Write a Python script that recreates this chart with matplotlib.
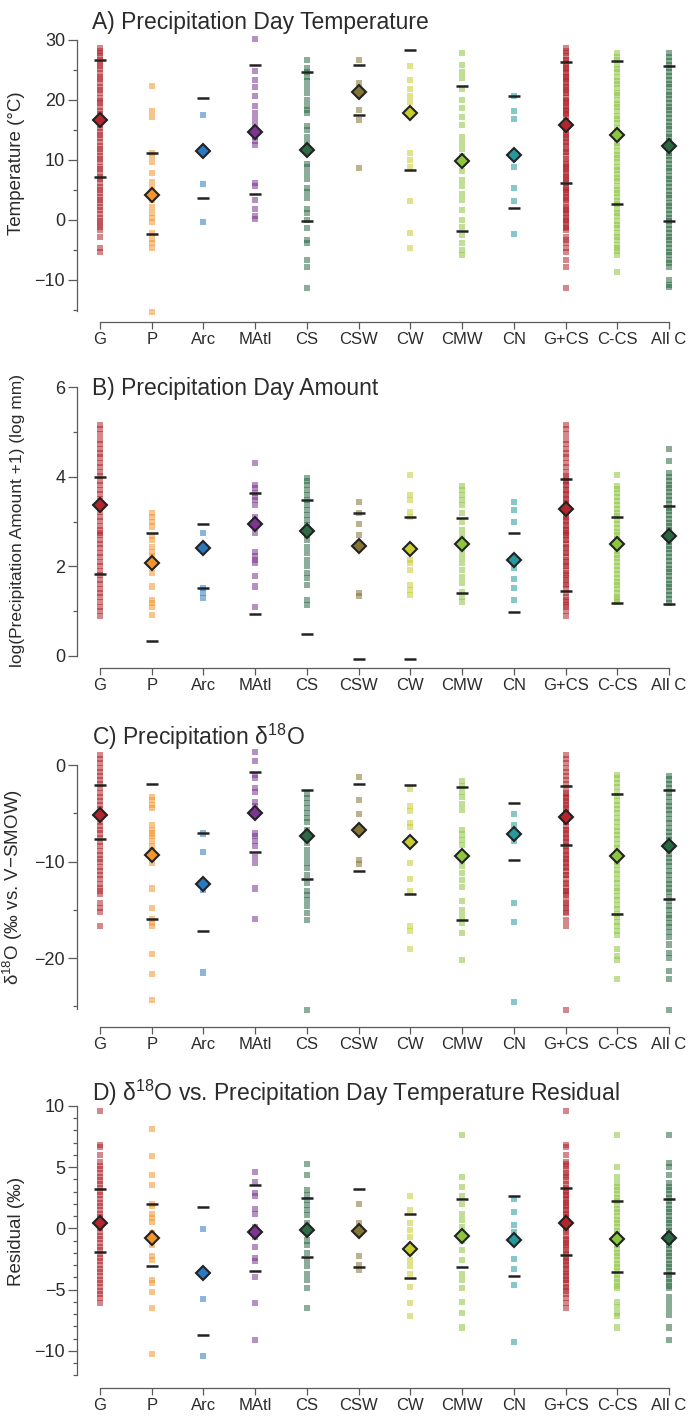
import numpy as np
import matplotlib
matplotlib.use("Agg")
import matplotlib.pyplot as plt

plt.rcParams["font.family"] = ["Liberation Sans", "DejaVu Sans"]
plt.rcParams["mathtext.fontset"] = "custom"
plt.rcParams["mathtext.rm"] = "Liberation Sans"
plt.rcParams["mathtext.it"] = "Liberation Sans:italic"

# ---------------------------------------------------------------- categories
categories = ["G", "P", "Arc", "MAtl", "CS", "CSW", "CW", "CMW", "CN", "G+CS", "C-CS", "All C"]
colors = ["#b2262d", "#f3952a", "#2b78c0", "#7d3592", "#2e6b45", "#857434",
          "#c8cd2e", "#8cc63e", "#25999b", "#b2262d", "#8cc63e", "#2a6840"]

# ---------------------------------------------------------------- A) temperature (°C)
temp_G = [28.6, 28.2, 27.8, 27.3, 26.7, 26.1, 25.6, 25.2, 24.5, 23.9, 23.5, 22.8, 22.2, 21.7, 21.1,
          20.4, 19.9, 19.5, 18.8, 18.1, 17.6, 17.2, 16.5, 15.8, 15.4, 14.7, 14.1, 13.7, 13.0, 12.4,
          11.9, 11.3, 10.6, 10.2, 9.6, 8.9, 8.5, 7.9, 7.2, 6.8, 6.2, 5.5, 5.0, 4.5, 3.8, 3.3, 2.8,
          2.1, 1.6, 1.0, 0.4, -0.1, -0.7, -1.1, -1.7, -2.8, -4.7, -5.4]
temp_P = [22.3, 18.1, 17.2, 11.2, 10.6, 9.7, 7.9, 6.4, 5.3, 3.9, 3.3, 2.2, 1.1, 0.3, -0.4, -2.2,
          -3.1, -3.9, -4.7, -15.3]
temp_Arc = [17.5, 6.0, -0.4]
temp_MAtl = [30.1, 24.9, 23.3, 22.1, 20.6, 19.0, 17.9, 16.9, 15.8, 14.7, 13.9, 13.1, 12.5, 6.2,
             5.6, 3.3, 1.9, 0.6, 0.1]
temp_CS = [26.7, 25.3, 24.7, 23.9, 23.1, 22.1, 21.1, 20.0, 19.0, 18.3, 17.8, 15.6, 15.0, 13.9,
           12.9, 11.4, 9.4, 8.9, 7.8, 6.9, 5.3, 4.6, 3.6, 1.9, 1.1, 0.0, -1.4, -3.3, -3.9, -6.7,
           -7.8, -11.4]
temp_CSW = [26.7, 22.8, 18.4, 16.6, 8.6]
temp_CW = [25.7, 23.4, 21.9, 20.6, 19.7, 11.1, 10.0, 8.9, 3.1, -2.2, -4.7]
temp_CMW = [27.8, 25.8, 24.7, 23.6, 21.9, 20.0, 18.6, 17.2, 15.8, 13.9, 12.8, 11.9, 10.6, 9.4,
            8.1, 6.7, 5.6, 4.4, 3.3, 1.7, 0.0, -1.1, -2.5, -3.9, -5.0, -5.8]
temp_CN = [20.6, 18.1, 16.9, 8.9, 5.3, 3.1, -2.4]
temp_CCS = [27.8, 27.1, 26.6, 25.8, 25.2, 24.7, 23.9, 23.2, 22.7, 22.0, 21.2, 20.8, 20.0, 19.3,
            18.8, 18.1, 17.3, 16.8, 16.1, 15.4, 14.9, 14.1, 13.5, 12.8, 12.3, 11.5, 10.9, 10.4,
            9.6, 8.9, 8.4, 7.6, 7.0, 6.5, 5.7, 5.0, 4.5, 3.8, 3.1, 2.6, 1.8, 1.2, 0.6, -0.1, -0.9,
            -1.4, -2.1, -2.8, -3.3, -4.1, -4.7, -5.2, -5.8, -8.6]
temp_AllC = [27.8, 27.2, 26.5, 25.9, 25.3, 24.6, 24.0, 23.4, 22.7, 22.1, 21.4, 20.9, 20.2, 19.5,
             18.9, 18.3, 17.6, 17.0, 16.3, 15.7, 15.1, 14.4, 13.8, 13.2, 12.5, 11.9, 11.2, 10.6,
             10.0, 9.3, 8.7, 8.1, 7.4, 6.8, 6.1, 5.5, 4.9, 4.2, 3.6, 2.9, 2.3, 1.7, 1.0, 0.4, -0.2,
             -0.9, -1.5, -2.1, -2.8, -3.4, -4.0, -4.7, -5.3, -5.9, -6.6, -7.2, -7.8, -10.0, -10.8,
             -11.2]
temp_mean = [16.6, 4.1, 11.5, 14.6, 11.7, 21.3, 17.9, 9.9, 10.9, 15.8, 14.1, 12.3]
temp_hi = [26.7, 11.1, 20.3, 25.8, 24.7, 25.9, 28.3, 22.3, 20.7, 26.4, 26.5, 25.7]
temp_lo = [7.2, -2.3, 3.6, 4.3, -0.2, 17.5, 8.4, -1.8, 2.0, 6.1, 2.6, -0.1]

# ---------------------------------------------------------------- B) log(amount + 1)
amt_G = [5.16, 5.07, 4.95, 4.83, 4.74, 4.63, 4.52, 4.43, 4.31, 4.22, 4.11, 4.02, 3.91, 3.82, 3.70,
         3.61, 3.50, 3.41, 3.30, 3.21, 3.10, 3.01, 2.91, 2.80, 2.75, 2.69, 2.59, 2.50, 2.40, 2.30,
         2.20, 2.10, 2.01, 1.90, 1.80, 1.70, 1.61, 1.50, 1.40, 1.31, 1.20, 1.10, 1.00, 0.90]
amt_P = [3.19, 3.11, 3.0, 2.89, 2.67, 2.59, 2.44, 2.33, 2.22, 2.11, 2.0, 1.85, 1.55, 1.25, 1.18,
         1.1, 0.92]
amt_Arc = [2.75, 1.51, 1.4, 1.3]
amt_MAtl = [4.3, 3.82, 3.75, 3.63, 3.56, 3.48, 3.37, 3.11, 3.0, 2.74, 2.33, 2.22, 2.14, 2.07, 1.79,
            1.55, 1.1]
amt_CS = [3.97, 3.9, 3.82, 3.71, 3.6, 3.48, 3.37, 3.26, 3.15, 3.04, 2.93, 2.81, 2.7, 2.59, 2.44,
          2.29, 2.14, 2.0, 1.85, 1.73, 1.58, 1.25, 1.14]
amt_CSW = [3.43, 3.19, 2.94, 2.70, 1.40, 1.33]
amt_CW = [4.04, 3.6, 3.48, 3.22, 3.11, 2.14, 2.07, 1.92, 1.59, 1.47, 1.36]
amt_CMW = [3.8, 3.7, 3.59, 3.48, 3.37, 3.19, 3.0, 2.82, 2.67, 2.52, 2.37, 2.22, 2.07, 1.92, 1.77,
           1.62, 1.43, 1.32, 1.21]
amt_CN = [3.43, 3.26, 2.99, 1.96, 1.71, 1.51, 1.25]
amt_CCS = [4.04, 3.80, 3.72, 3.63, 3.55, 3.46, 3.37, 3.29, 3.20, 3.12, 3.03, 2.95, 2.86, 2.77,
           2.69, 2.60, 2.52, 2.43, 2.35, 2.26, 2.18, 2.09, 2.00, 1.92, 1.83, 1.75, 1.66, 1.58,
           1.49, 1.41, 1.32, 1.26, 1.21]
amt_AllC = [4.62, 4.36, 4.08, 3.99, 3.91, 3.82, 3.74, 3.65, 3.57, 3.48, 3.40, 3.31, 3.23, 3.14,
            3.06, 2.97, 2.89, 2.80, 2.72, 2.63, 2.55, 2.46, 2.38, 2.29, 2.21, 2.12, 2.04, 1.95,
            1.87, 1.78, 1.70, 1.61, 1.53, 1.44, 1.36, 1.27, 1.18]
amt_mean = [3.36, 2.08, 2.40, 2.95, 2.79, 2.46, 2.39, 2.50, 2.14, 3.28, 2.50, 2.68]
amt_hi = [4.0, 2.75, 2.95, 3.63, 3.49, 3.19, 3.11, 3.08, 2.74, 3.95, 3.11, 3.34]
amt_lo = [1.82, 0.34, 1.51, 0.94, 0.48, -0.07, -0.07, 1.40, 0.99, 1.44, 1.18, 1.15]

# ---------------------------------------------------------------- C) precipitation d18O (permil)
d18_G = [1.0, 0.6, 0.2, -0.3, -0.7, -1.1, -1.6, -2.0, -2.4, -2.9, -3.3, -3.7, -4.1, -4.6, -5.0,
         -5.4, -5.9, -6.3, -6.7, -7.1, -7.6, -8.0, -8.4, -8.9, -9.3, -9.7, -10.1, -10.6, -11.0,
         -11.4, -11.8, -12.3, -12.7, -13.1, -13.4, -14.3, -14.8, -15.2, -16.7]
d18_P = [-3.3, -3.6, -4.1, -4.5, -6.2, -6.7, -7.1, -7.4, -7.9, -8.4, -8.8, -9.5, -10.2, -12.8,
         -14.8, -16.0, -16.4, -16.7, -19.6, -21.7, -24.4]
d18_Arc = [-7.1, -9.0, -12.9, -21.5]
d18_MAtl = [1.3, 0.4, -1.0, -1.3, -2.4, -2.8, -3.8, -4.3, -4.8, -5.3, -7.1, -7.4, -7.9, -8.4,
            -9.5, -10.2, -12.8, -16.0]
d18_CS = [-3.0, -3.45, -3.97, -4.48, -5.0, -5.52, -5.86, -6.72, -7.41, -8.1, -8.79, -9.48,
          -10.17, -10.69, -11.38, -12.24, -13.1, -13.45, -13.97, -14.66, -15.34, -16.03, -25.34]
d18_CSW = [-1.2, -3.6, -5.1, -9.8, -10.3]
d18_CW = [-2.5, -4.2, -4.8, -6.0, -6.4, -10.2, -11.8, -13.1, -16.7, -17.2, -19.1]
d18_CMW = [-1.7, -2.2, -2.8, -3.3, -4.0, -4.7, -6.7, -7.2, -7.8, -8.3, -9.1, -9.8, -10.5, -11.2,
           -11.9, -12.6, -14.1, -15.0, -15.7, -16.4, -17.4, -20.2]
d18_CN = [-5.1, -6.2, -7.9, -14.3, -16.3, -24.6]
d18_CCS = [-1.0, -1.4, -1.9, -2.3, -2.8, -3.2, -3.7, -4.1, -4.6, -5.0, -5.5, -5.9, -6.4, -6.8,
           -7.3, -7.7, -8.2, -8.6, -9.1, -9.5, -10.0, -10.4, -10.9, -11.3, -11.8, -12.2, -12.7,
           -13.1, -13.6, -14.0, -14.5, -14.9, -15.4, -15.8, -16.3, -16.7, -17.2, -17.6, -19.1,
           -19.8, -20.2, -22.2]
d18_AllC = [-1.1, -1.5, -2.0, -2.4, -2.9, -3.3, -3.8, -4.2, -4.7, -5.1, -5.6, -6.0, -6.5, -6.9,
            -7.4, -7.8, -8.3, -8.7, -9.2, -9.6, -10.1, -10.5, -11.0, -11.4, -11.9, -12.3, -12.8,
            -13.2, -13.7, -14.1, -14.6, -15.0, -15.5, -15.9, -16.4, -16.8, -17.3, -17.8, -18.6,
            -19.5, -20.0, -21.3, -22.2, -25.4]
d18_mean = [-5.2, -9.3, -12.3, -5.0, -7.4, -6.7, -8.0, -9.4, -7.1, -5.4, -9.4, -8.4]
d18_hi = [-2.1, -2.0, -7.0, -0.7, -2.6, -2.0, -2.1, -2.3, -3.9, -2.2, -3.0, -2.6]
d18_lo = [-7.7, -16.0, -17.2, -9.0, -11.8, -11.0, -13.4, -16.1, -9.8, -8.3, -15.4, -13.9]

# ---------------------------------------------------------------- D) d18O vs temperature residual
res_G = [9.6, 6.8, 6.6, 6.0, 5.4, 5.1, 4.8, 4.5, 4.2, 3.9, 3.6, 3.3, 3.0, 2.7, 2.4, 2.1, 1.8, 1.5,
         1.2, 0.9, 0.6, 0.3, 0.0, -0.3, -0.6, -0.9, -1.2, -1.5, -1.8, -2.1, -2.4, -2.7, -3.0, -3.3,
         -3.6, -3.9, -4.2, -4.5, -4.8, -5.1, -5.4, -5.7, -6.1]
res_P = [8.1, 5.9, 4.35, 3.5, 2.0, 1.8, 1.2, 0.8, 0.5, -0.4, -1.0, -1.4, -2.3, -2.6, -4.2, -4.5,
         -5.2, -6.5, -10.3]
res_Arc = [-0.08, -5.8, -10.4]
res_MAtl = [4.6, 3.8, 2.9, 2.6, 1.6, 1.2, 0.1, -0.7, -1.5, -2.4, -2.7, -4.0, -6.1, -9.1]
res_CS = [5.25, 4.35, 3.1, 2.7, 2.3, 1.9, 1.5, 1.1, 0.4, -0.14, -1.0, -1.4, -2.0, -2.6, -3.1,
          -3.7, -4.2, -4.9, -6.5]
res_CSW = [2.0, 0.4, -2.3, -3.0, -3.4]
res_CW = [2.6, 1.5, 0.4, -0.14, -0.7, -1.5, -2.0, -2.6, -3.1, -3.7, -4.8, -6.1, -7.2]
res_CMW = [7.6, 4.2, 3.4, 2.6, 2.0, 1.2, 0.7, 0.1, -0.4, -1.0, -1.8, -2.6, -3.7, -4.2, -4.9, -6.0,
           -6.9, -8.1]
res_CN = [2.4, 1.3, 0.3, -0.3, -1.0, -2.5, -3.3, -4.6, -9.3]
res_CCS = [7.6, 5.0, 4.2, 3.7, 3.4, 3.1, 2.8, 2.5, 2.2, 1.9, 1.6, 1.3, 1.0, 0.7, 0.4, 0.1, -0.2,
           -0.5, -0.8, -1.1, -1.4, -1.7, -2.0, -2.3, -2.6, -2.9, -3.2, -3.5, -3.8, -4.1, -4.4,
           -4.7, -4.9, -6.0, -6.4, -6.9, -7.2, -8.1]
res_AllC = [7.6, 5.3, 5.0, 4.35, 3.7, 3.4, 3.1, 2.8, 2.5, 2.2, 1.9, 1.6, 1.3, 1.0, 0.7, 0.4, 0.1,
            -0.2, -0.5, -0.8, -1.1, -1.4, -1.7, -2.0, -2.3, -2.6, -2.9, -3.2, -3.5, -3.8, -4.1,
            -4.4, -4.7, -4.9, -5.6, -6.1, -6.6, -7.1, -8.1, -9.1]
res_mean = [0.4, -0.76, -3.67, -0.27, -0.14, -0.2, -1.7, -0.6, -0.95, 0.4, -0.9, -0.76]
res_hi = [3.2, 1.96, 1.77, 3.5, 2.5, 3.2, 1.2, 2.37, 2.6, 3.3, 2.2, 2.4]
res_lo = [-1.96, -3.07, -8.7, -3.5, -2.37, -3.2, -4.1, -3.2, -3.9, -2.2, -3.6, -3.67]

# G+CS combines the two groups
temp_GCS = temp_G + temp_CS
amt_GCS = amt_G + amt_CS
d18_GCS = d18_G + d18_CS
res_GCS = res_G + res_CS

temp_pts = [temp_G, temp_P, temp_Arc, temp_MAtl, temp_CS, temp_CSW, temp_CW, temp_CMW, temp_CN,
            temp_GCS, temp_CCS, temp_AllC]
amt_pts = [amt_G, amt_P, amt_Arc, amt_MAtl, amt_CS, amt_CSW, amt_CW, amt_CMW, amt_CN,
           amt_GCS, amt_CCS, amt_AllC]
d18_pts = [d18_G, d18_P, d18_Arc, d18_MAtl, d18_CS, d18_CSW, d18_CW, d18_CMW, d18_CN,
           d18_GCS, d18_CCS, d18_AllC]
res_pts = [res_G, res_P, res_Arc, res_MAtl, res_CS, res_CSW, res_CW, res_CMW, res_CN,
           res_GCS, res_CCS, res_AllC]

# ---------------------------------------------------------------- figure
W, H = 689, 1416
fig = plt.figure(figsize=(W / 100, H / 100), dpi=100)

AX_LEFT = 77            # px, y-axis spine
X0, X11 = 100, 669      # px of first / last category
step = (X11 - X0) / 11.0
xlim = ((AX_LEFT - X0) / step, (W - X0) / step)

SPINE_C = "#5a5a5a"
TXT_C = "#2b2b2b"

panels = [
    dict(pts=temp_pts, mean=temp_mean, hi=temp_hi, lo=temp_lo,
         top=34, bottom=322, ylim=(-17, 31), bounds=(-15.2, 30),
         major=[-10, 0, 10, 20, 30], minor=[-15, -5, 5, 15, 25],
         title="A) Precipitation Day Temperature", title_y=22,
         ylabel="Temperature (°C)", ylabel_y=163, ylabel_size=13.5),
    dict(pts=amt_pts, mean=amt_mean, hi=amt_hi, lo=amt_lo,
         top=380.5, bottom=668, ylim=(-0.27, 6.15), bounds=(0, 6),
         major=[0, 2, 4, 6], minor=[1, 3, 5],
         title="B) Precipitation Day Amount", title_y=388,
         ylabel="log(Precipitation Amount +1) (log mm)", ylabel_y=520, ylabel_size=12.5),
    dict(pts=d18_pts, mean=d18_mean, hi=d18_hi, lo=d18_lo,
         top=745.7, bottom=1027, ylim=(-27.15, 2), bounds=(-25.3, 0),
         major=[-20, -10, 0], minor=[-25, -15, -5],
         title="C) Precipitation δ$^{18}$O", title_y=737,
         ylabel="δ$^{18}$O (‰ vs. V−SMOW)", ylabel_y=887, ylabel_size=13.5),
    dict(pts=res_pts, mean=res_mean, hi=res_hi, lo=res_lo,
         top=1102.1, bottom=1388, ylim=(-13.04, 10.3), bounds=(-12, 10),
         major=[-10, -5, 0, 5, 10], minor=[v for v in range(-12, 11) if v % 5 != 0],
         title="D) δ$^{18}$O vs. Precipitation Day Temperature Residual", title_y=1093,
         ylabel="Residual (‰)", ylabel_y=1231, ylabel_size=13.5),
]

for p in panels:
    ax = fig.add_axes([AX_LEFT / W, 1 - p["bottom"] / H,
                       (W - AX_LEFT) / W, (p["bottom"] - p["top"]) / H])
    ax.set_xlim(*xlim)
    ax.set_ylim(*p["ylim"])
    ax.patch.set_alpha(0)

    for i, (vals, col) in enumerate(zip(p["pts"], colors)):
        ax.scatter(np.full(len(vals), i), vals, marker="s", s=19, color=col,
                   alpha=0.55, edgecolors="none", zorder=2, clip_on=False)
        ax.plot([i, i], [p["hi"][i], p["lo"][i]], ls="none", marker="_", ms=9, mew=1.8,
                color="#222222", zorder=4, clip_on=False)
        ax.plot(i, p["mean"][i], ls="none", marker="D", ms=7.5, mfc=col, mec="#222222",
                mew=1.5, zorder=5, clip_on=False)

    for s in ("top", "right"):
        ax.spines[s].set_visible(False)
    ax.spines["left"].set_bounds(*p["bounds"])
    ax.spines["bottom"].set_bounds(0, 11)
    for s in ("left", "bottom"):
        ax.spines[s].set_color(SPINE_C)
        ax.spines[s].set_linewidth(0.9)

    ax.set_xticks(range(len(categories)))
    ax.set_xticklabels(categories, fontsize=12, color=TXT_C)
    ax.set_yticks(p["major"])
    ax.set_yticks(p["minor"], minor=True)
    ax.tick_params(axis="y", which="major", length=6.5, width=0.9, color=SPINE_C,
                   labelsize=13, labelcolor=TXT_C, pad=2)
    ax.tick_params(axis="y", which="minor", length=3, width=0.9, color=SPINE_C)
    ax.tick_params(axis="x", which="major", length=5, width=0.9, color=SPINE_C, pad=2)

    ax.set_ylabel(p["ylabel"], fontsize=p["ylabel_size"], color=TXT_C)
    ax.yaxis.set_label_coords(25 / W, 1 - p["ylabel_y"] / H, transform=fig.transFigure)

    fig.text(92 / W, 1 - p["title_y"] / H, p["title"], fontsize=16.5, color=TXT_C,
             ha="left", va="center")

fig.savefig("out.png", dpi=100)
